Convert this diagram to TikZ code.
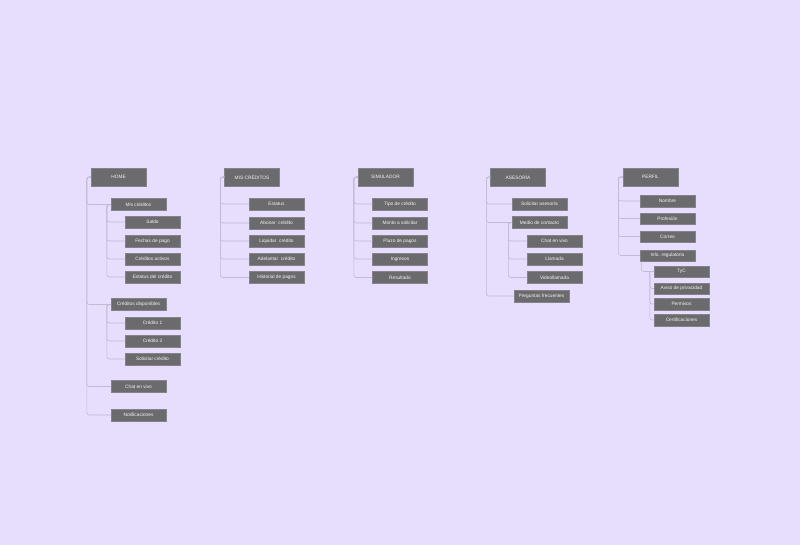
\documentclass[tikz,border=0pt]{standalone}
\usepackage{fontspec}
\setmainfont{Liberation Sans}
\definecolor{bgc}{HTML}{E7DEFD}
\definecolor{boxc}{HTML}{6B6A6C}
\definecolor{boxedge}{HTML}{85828B}
\definecolor{linec}{HTML}{C2B9D3}
\definecolor{txtc}{HTML}{F4F4F4}
\begin{document}
\begin{tikzpicture}[x=1pt,y=-1pt,
  hdr/.style={draw=boxedge,line width=0.4pt,fill=boxc,minimum width=55pt,minimum height=18pt,inner sep=0pt,text=txtc,font=\fontsize{4.8}{5}\selectfont},
  item/.style={draw=boxedge,line width=0.4pt,fill=boxc,minimum width=55pt,minimum height=12pt,inner sep=0pt,text=txtc,font=\fontsize{4.8}{5}\selectfont},
  conn/.style={draw=linec,line width=0.6pt,rounded corners=2.5pt}]
\fill[bgc] (0,0) rectangle (800,545);
\useasboundingbox (0,0) rectangle (800,545);

% HOME
\node[hdr]  (home)    at (118.5,177) {HOME};
\node[item] (miscred) at (138.5,204.5) {Mis créditos};
\node[item] (saldo)   at (152.5,222) {Saldo};
\node[item] (fechas)  at (152.5,241) {Fechas de pago};
\node[item] (activos) at (152.5,259) {Créditos activos};
\node[item] (estatus) at (152.5,277) {Estatus del crédito};
\node[item] (disp)    at (138.5,304.5) {Créditos disponibles};
\node[item] (cuno)    at (152.5,323) {Crédito 1};
\node[item] (cdos)    at (152.5,341) {Crédito 2};
\node[item] (solic)   at (152.5,359) {Solicitar crédito};
\node[item] (chat)    at (138.5,386.5) {Chat en vivo};
\node[item] (notif)   at (138.5,415) {Notificaciones};
\foreach \c in {miscred,disp,chat,notif}
  \draw[conn] (home.west) -- ++(-4,0) |- (\c.west);
\foreach \c in {saldo,fechas,activos,estatus}
  \draw[conn] (miscred.west) -- ++(-4,0) |- (\c.west);
\foreach \c in {cuno,cdos,solic}
  \draw[conn] (disp.west) -- ++(-4,0) |- (\c.west);

% MIS CREDITOS
\node[hdr]  (mc)        at (252,177) {MIS CRÉDITOS};
\node[item] (mcest)     at (276.5,204) {Estatus};
\node[item] (abonar)    at (276.5,223) {Abonar\ \ crédito};
\node[item] (liquidar)  at (276.5,241) {Liquidar\ \ crédito};
\node[item] (adelantar) at (276.5,259) {Adelantar\ \ crédito};
\node[item] (historial) at (276.5,277.5) {Historial de pagos};
\foreach \c in {mcest,abonar,liquidar,adelantar,historial}
  \draw[conn] (mc.west) -- ++(-4,0) |- (\c.west);

% SIMULADOR
\node[hdr]  (sim)      at (385.5,177) {SIMULADOR};
\node[item] (tipo)     at (400,204) {Tipo de crédito};
\node[item] (monto)    at (400,223) {Monto a solicitar};
\node[item] (plazo)    at (400,241) {Plazo de pagos};
\node[item] (ingresos) at (400,259) {Ingresos};
\node[item] (result)   at (400,277.5) {Resultado};
\foreach \c in {tipo,monto,plazo,ingresos,result}
  \draw[conn] (sim.west) -- ++(-4,0) |- (\c.west);

% ASESORIA
\node[hdr]  (ase)     at (518,177) {ASESORÍA};
\node[item] (solase)  at (539.5,204) {Solicitar asesoría};
\node[item] (medio)   at (539.5,222.5) {Medio de contacto};
\node[item] (chatdos) at (554.5,241) {Chat en vivo};
\node[item] (llamada) at (554.5,259) {Llamada};
\node[item] (video)   at (554.5,277.5) {Videollamada};
\node[item] (preg)    at (541.5,296) {Preguntas frecuentes};
\foreach \c in {solase,medio,preg}
  \draw[conn] (ase.west) -- ++(-4,0) |- (\c.west);
\foreach \c in {chatdos,llamada,video}
  \draw[conn] (medio.west) -- ++(-3.5,0) |- (\c.west);

% PERFIL
\node[hdr]  (perfil)    at (650.5,177) {PERFIL};
\node[item,minimum height=11.5pt] (nombre)    at (667.5,201) {Nombre};
\node[item,minimum height=11.5pt] (profesion) at (667.5,218.5) {Profesión};
\node[item,minimum height=11.5pt] (correo)    at (667.5,236.5) {Correo};
\node[item,minimum height=11.5pt] (info)      at (667.5,255.5) {Info. regulatoria};
\node[item,minimum height=11.5pt] (tyc)       at (681.5,271.5) {TyC};
\node[item,minimum height=11.5pt] (aviso)     at (681.5,288.5) {Aviso de privacidad};
\node[item,minimum height=11.5pt] (permisos)  at (681.5,304) {Permisos};
\node[item,minimum height=11.5pt] (cert)      at (681.5,320) {Certificaciones};
\foreach \c in {nombre,profesion,correo,info}
  \draw[conn] (perfil.west) -- ++(-4.5,0) |- (\c.west);
\coordinate (infobot) at ([xshift=1.5pt]info.south west);
\draw[conn] (infobot) |- (tyc.west);
\coordinate (ptrunk) at ([xshift=-4pt]tyc.west);
\foreach \c in {aviso,permisos,cert}
  \draw[conn] (ptrunk) |- (\c.west);
\end{tikzpicture}
\end{document}
